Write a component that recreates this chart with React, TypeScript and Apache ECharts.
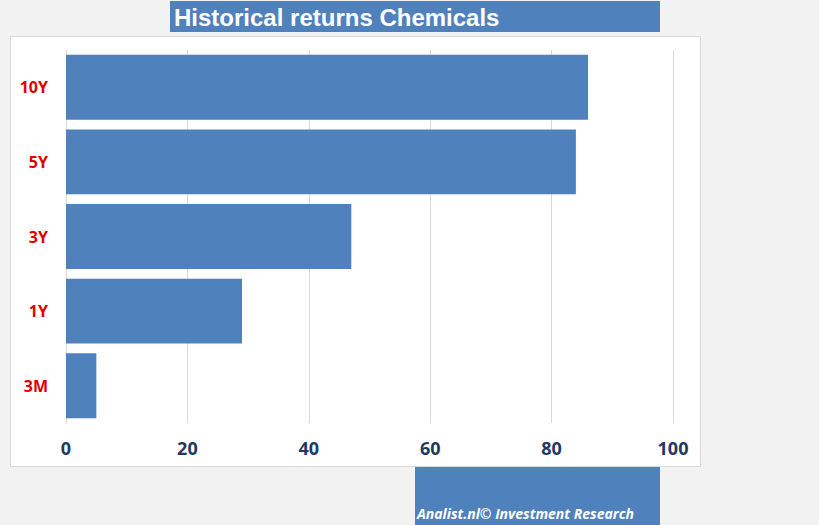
import React, { useEffect, useRef } from "react";
import * as echarts from "echarts";

const categories = ["3M", "1Y", "3Y", "5Y", "10Y"];
const returnsValues = [5, 29, 47, 84, 86];
const xTicks = [0, 20, 40, 60, 80, 100];
const titleText = "Historical returns Chemicals";
const footerText = "Analist.nl© Investment Research";

export default function App() {
  const ref = useRef<HTMLDivElement>(null);
  useEffect(() => {
    if (!ref.current) return;
    const chart = echarts.init(ref.current, null, { renderer: "svg" });
    chart.setOption({
      animation: false,
      backgroundColor: "#f2f2f2",
      graphic: [
        {
          type: "rect",
          z: -10,
          shape: { x: 10.5, y: 36.5, width: 690, height: 430 },
          style: { fill: "#ffffff", stroke: "#d9d9d9", lineWidth: 1 },
        },
        {
          type: "rect",
          shape: { x: 170, y: 1, width: 490, height: 31 },
          style: { fill: "#4f81bd" },
        },
        {
          type: "text",
          x: 174,
          y: 17,
          style: {
            text: titleText,
            fill: "#ffffff",
            font: "bold 24px 'Liberation Sans', Arial, sans-serif",
            verticalAlign: "middle",
          },
        },
        {
          type: "rect",
          shape: { x: 415, y: 467, width: 245, height: 58 },
          style: { fill: "#4f81bd" },
        },
        {
          type: "text",
          x: 417,
          y: 513,
          style: {
            text: footerText,
            fill: "#ffffff",
            font: "italic bold 14px 'Open Sans', sans-serif",
            verticalAlign: "middle",
          },
        },
      ],
      grid: { left: 66, right: 146, top: 50, bottom: 102 },
      xAxis: {
        type: "value",
        min: 0,
        max: 100,
        interval: 20,
        axisLine: { show: false },
        axisTick: { show: false },
        splitLine: { lineStyle: { color: "#d9d9d9", width: 1 } },
        axisLabel: {
          margin: 16,
          color: "#1f3864",
          fontWeight: "bold",
          fontSize: 18,
          fontFamily: "'Open Sans', sans-serif",
          formatter: (v: number) => (xTicks.includes(v) ? String(v) : ""),
        },
      },
      yAxis: {
        type: "category",
        data: categories,
        axisLine: { show: true, lineStyle: { color: "#d9d9d9" } },
        axisTick: { show: false },
        axisLabel: {
          margin: 18,
          color: "#e00000",
          fontWeight: "bold",
          fontSize: 16,
          fontFamily: "'Open Sans', sans-serif",
        },
      },
      series: [
        {
          type: "bar",
          data: returnsValues,
          barCategoryGap: "13%",
          itemStyle: { color: "#4f81bd" },
        },
      ],
    });
    return () => chart.dispose();
  }, []);
  return (
    <div
      ref={ref}
      style={{ position: "fixed", left: 0, top: 0, width: 819, height: 525 }}
    />
  );
}
